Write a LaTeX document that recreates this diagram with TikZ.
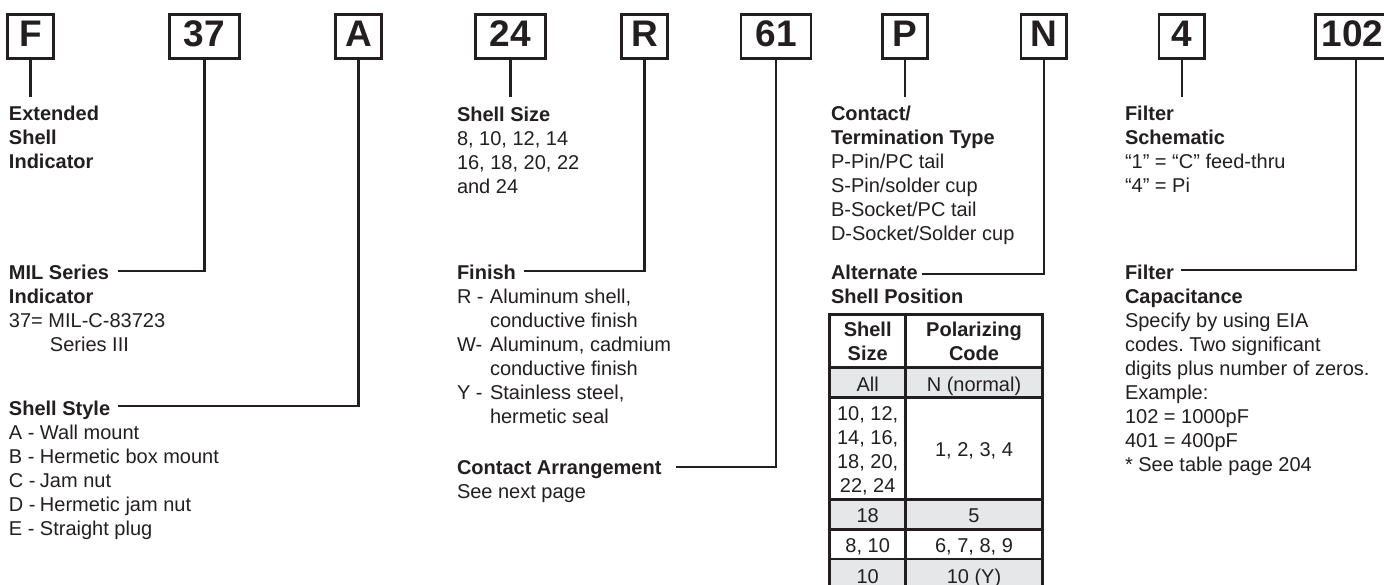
\documentclass[tikz,border=0pt]{standalone}
\usepackage{fontspec}
\setmainfont{Liberation Sans}
\frenchspacing
\definecolor{ink}{RGB}{35,31,32}
\definecolor{cellgray}{RGB}{230,231,232}
\tikzset{
 codebox/.style={draw=ink, line width=2.7pt, minimum height=44pt, inner sep=0pt, text=ink,
   font=\bfseries\fontsize{37}{40}\selectfont, text height=26.6pt, text depth=6.8pt},
 onebox/.style={codebox, minimum width=45.6pt},
 twobox/.style={codebox, minimum width=69.8pt},
 conn/.style={draw=ink, line width=2.3pt},
 txt/.style={anchor=base west, inner sep=0pt, outer sep=0pt, text=ink, font=\fontsize{20}{24}\selectfont},
 head/.style={txt, font=\bfseries\fontsize{20}{24}\selectfont},
 cell/.style={anchor=base, inner sep=0pt, outer sep=0pt, text=ink, font=\fontsize{20}{24}\selectfont},
 hcell/.style={cell, font=\bfseries\fontsize{20}{24}\selectfont},
 gridline/.style={draw=ink, line width=2.6pt},
}
\newcommand\blk[1]{\begin{tabular}[t]{@{}l@{}}#1\end{tabular}}
\newcommand\cblk[1]{\begin{tabular}[t]{@{}c@{}}#1\end{tabular}}
\newcommand\itm[2][31pt]{\makebox[#1][l]{#2}}
\begin{document}
\begin{tikzpicture}[x=1pt,y=-1pt]
\useasboundingbox (0,0) rectangle (1384,585);
\fill[white] (0,0) rectangle (1384,585);
\clip (0,0) rectangle (1384,585);

% code boxes
\node[onebox] (bF) at (30.5,36.7) {F};
\node[twobox] (b37) at (204.5,36.7) {37};
\node[onebox] (bA) at (358.6,36.7) {A};
\node[twobox] (b24) at (510.5,36.7) {24};
\node[onebox] (bR) at (644.5,36.7) {R};
\node[twobox] (b61) at (776,36.7) {61};
\node[onebox] (bP) at (905,36.7) {P};
\node[onebox] (bN) at (1043.8,36.7) {N};
\node[onebox] (b4) at (1181.8,36.7) {4};
\node[codebox, minimum width=81pt] (b102) at (1356,36.7) {102\hspace*{7pt}};

% connector ends
\coordinate (drop) at (0,96.7);
\coordinate (e37) at (118.3,270.7);
\coordinate (eA) at (118.3,406.3);
\coordinate (eR) at (524.3,270.7);
\coordinate (e61) at (676,467.3);
\coordinate (eN) at (921.7,274);
\coordinate (e102) at (1181,270);

\draw[conn] (bF.south) -- (bF.south |- drop);
\draw[conn] (b24.south) -- (b24.south |- drop);
\draw[conn] (bP.south) -- (bP.south |- drop);
\draw[conn] (b4.south) -- (b4.south |- drop);
\draw[conn] (b37.south) |- (e37);
\draw[conn] (bA.south) |- (eA);
\draw[conn] (bR.south) |- (eR);
\draw[conn] (b61.south) |- (e61);
\draw[conn] (bN.south) |- (eN);
\draw[conn] (b102.south) |- (e102);

% column 1
\node[head] (tF) at (9,120.7) {\blk{Extended\\Shell\\Indicator}};
\node[head] (tMIL) at (9,279.3) {MIL Series};
\node[txt] (tMILb) at (9,303.3) {\blk{\textbf{Indicator}\\37= MIL-C-83723\\\hspace*{41pt}Series III}};
\node[head] (tSS) at (9,415) {Shell Style};
\node[txt] (tSSb) at (9,439.3) {\blk{\itm{A -}Wall mount\\\itm{B -}Hermetic box mount\\\itm{C -}Jam nut\\\itm{D -}Hermetic jam nut\\\itm{E -}Straight plug}};

% column 2
\node[head] (tSz) at (457,121.3) {Shell Size};
\node[txt] (tSzb) at (457,145.3) {\blk{8, 10, 12, 14\\16, 18, 20, 22\\and 24}};
\node[head] (tFin) at (457,279.3) {Finish};
\node[txt] (tFinb) at (457,303.3) {\blk{\itm[33pt]{R -}Aluminum shell,\\\hspace*{33pt}conductive finish\\\itm[33pt]{W-}Aluminum, cadmium\\\hspace*{33pt}conductive finish\\\itm[33pt]{Y -}Stainless steel,\\\hspace*{33pt}hermetic seal}};
\node[head] (tCA) at (457,474.3) {Contact Arrangement};
\node[txt] (tCAb) at (457,498.3) {See next page};

% column 3
\node[head] (tCT) at (831,121) {\blk{Contact/\\Termination Type}};
\node[txt] (tCTb) at (831,169) {\blk{P-Pin/PC tail\\S-Pin/solder cup\\B-Socket/PC tail\\D-Socket/Solder cup}};
\node[head] (tAlt) at (831,279.3) {\blk{Alternate\\Shell Position}};

% table
\fill[cellgray] (829.7,367.5) rectangle (1042.3,397.3);
\fill[cellgray] (829.7,499.5) rectangle (1042.3,529.5);
\fill[cellgray] (829.7,558.8) rectangle (1042.3,600);
\draw[gridline] (829.7,314.7) rectangle (1042.3,600);
\draw[gridline] (905.7,314.7) -- (905.7,600);
\foreach \yy in {367.5,397.3,499.5,529.5,558.8}
  \draw[gridline] (829.7,\yy) -- (1042.3,\yy);
\node[hcell] (hS) at (867.7,336.7) {\cblk{Shell\\Size}};
\node[hcell] (hP) at (974,336.7) {\cblk{Polarizing\\Code}};
\node[cell] (c1a) at (867.7,391) {All};
\node[cell] (c1b) at (974,391) {N (normal)};
\node[cell] (c2a) at (867.7,420) {\cblk{10, 12,\\14, 16,\\18, 20,\\22, 24}};
\node[cell] (c2b) at (974,456) {1, 2, 3, 4};
\node[cell] (c3a) at (867.7,522) {18};
\node[cell] (c3b) at (974,522) {5};
\node[cell] (c4a) at (867.7,552) {8, 10};
\node[cell] (c4b) at (974,552) {6, 7, 8, 9};
\node[cell] (c5a) at (867.7,583) {10};
\node[cell] (c5b) at (974,583) {10 (Y)};

% column 4
\node[head] (tFS) at (1125,121) {\blk{Filter\\Schematic}};
\node[txt] (tFSb) at (1125,169) {\blk{“1” = “C” feed-thru\\“4” = Pi}};
\node[head] (tFC) at (1125,279.3) {\blk{Filter\\Capacitance}};
\node[txt] (tFCb) at (1125,327.3) {\blk{Specify by using EIA\\codes. Two significant\\digits plus number of zeros.\\Example:\\102 = 1000pF\\401 = 400pF\\{*} See table page 204}};
\end{tikzpicture}
\end{document}
